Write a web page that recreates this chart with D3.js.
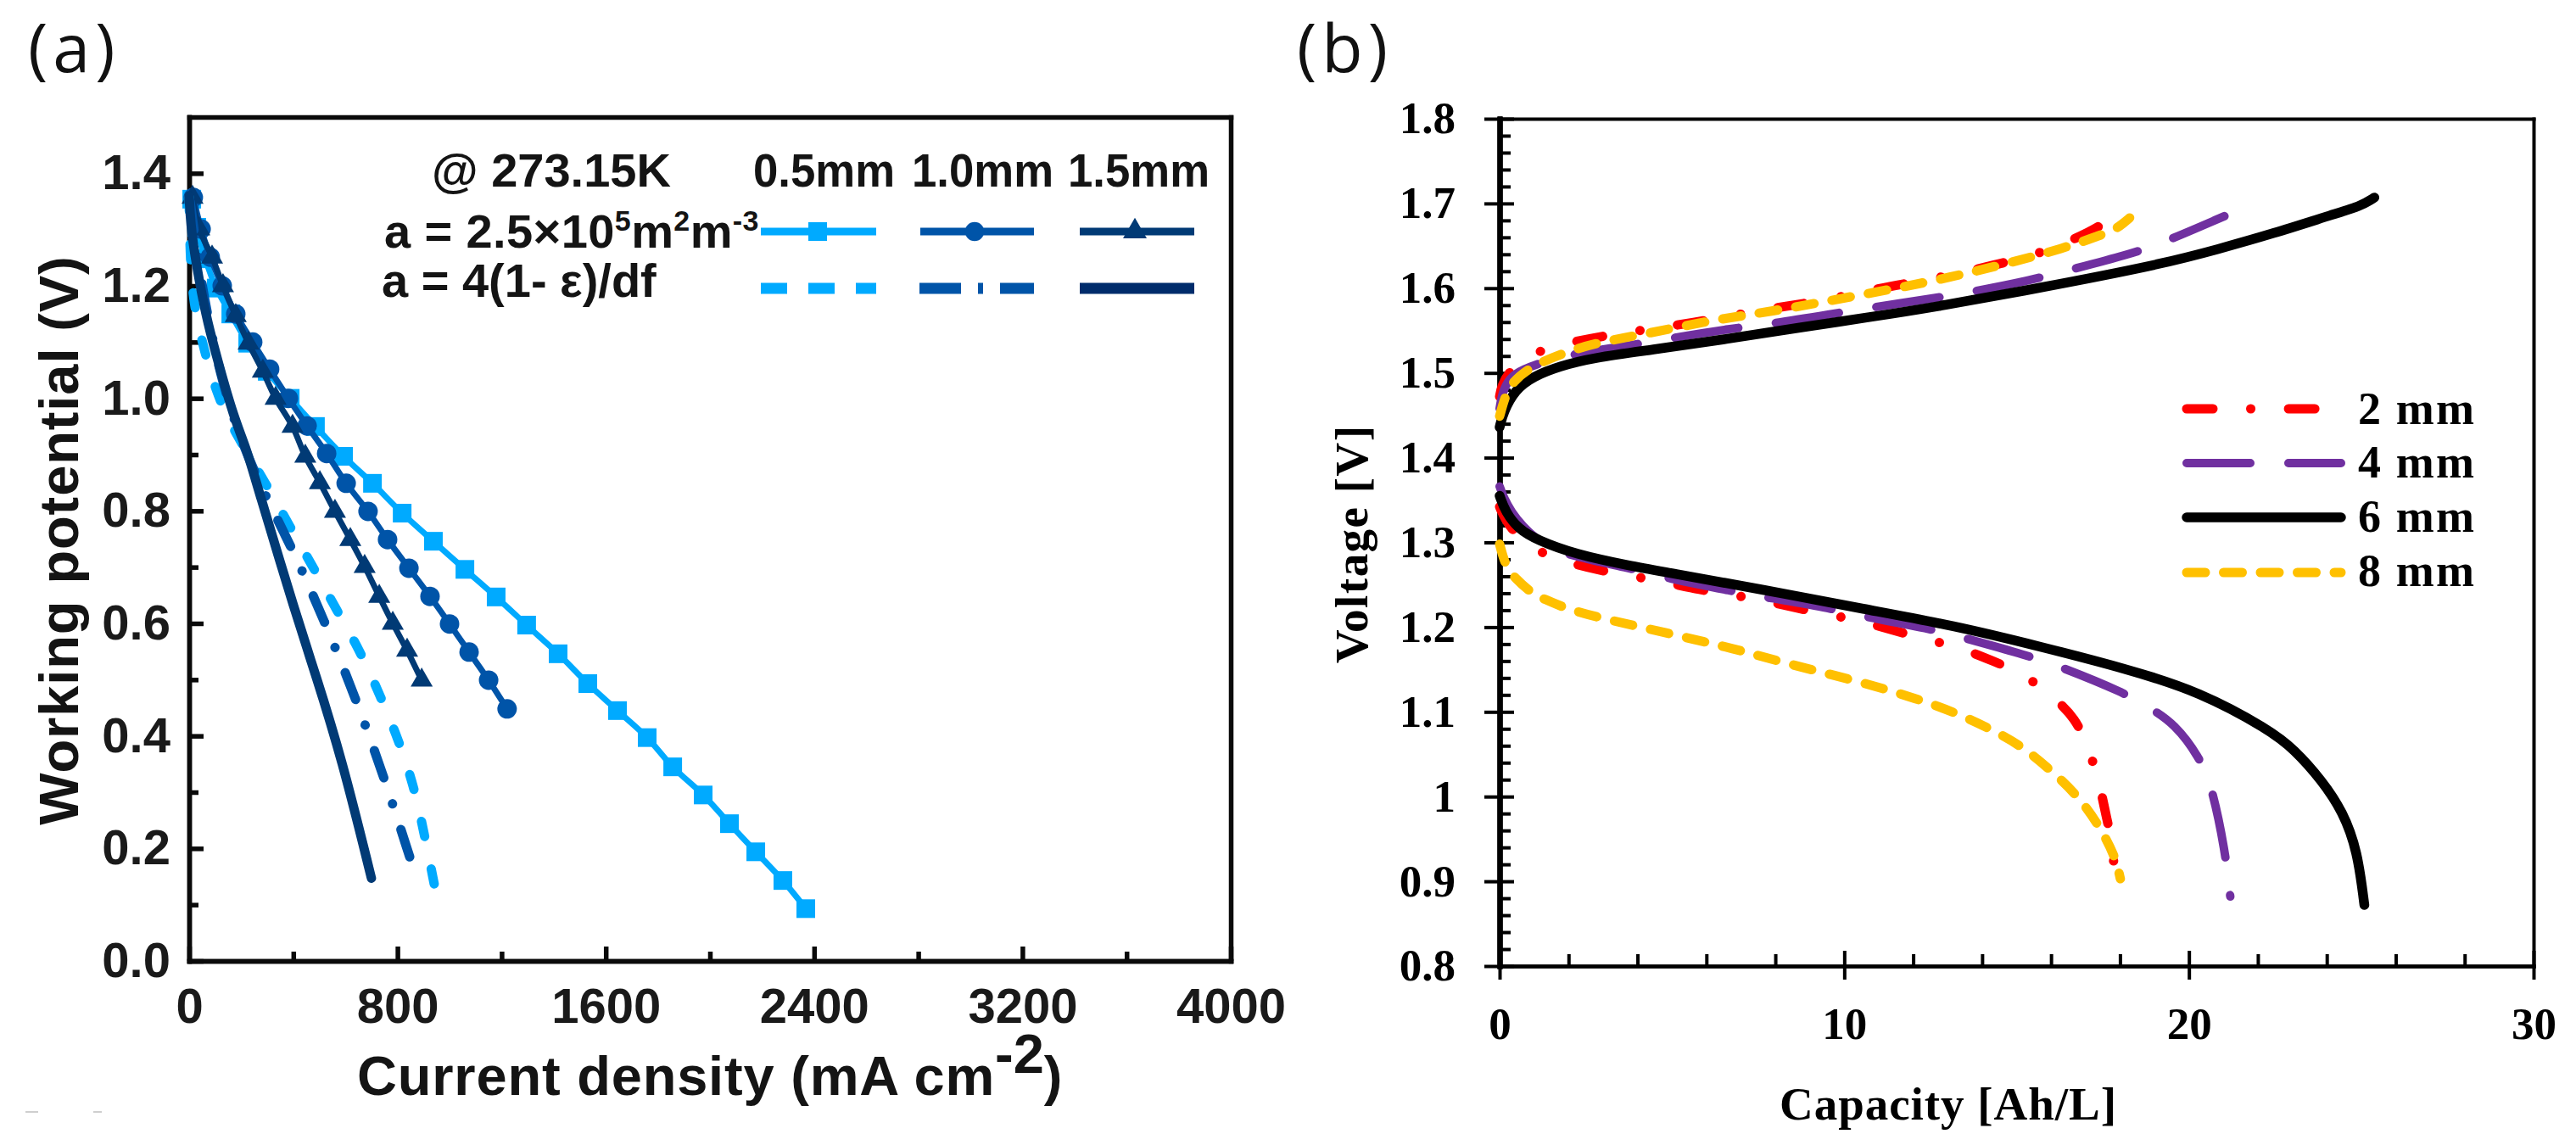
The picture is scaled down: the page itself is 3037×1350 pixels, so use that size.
<!DOCTYPE html>
<html><head><meta charset="utf-8">
<script src="https://cdn.jsdelivr.net/npm/d3@7"></script>
<style>html,body{margin:0;padding:0;background:#fff}svg{display:block}</style>
</head><body><svg id="c" width="3037" height="1350"></svg>
<script>
// ---------- Panel (a) data: current density (mA cm-2), working potential (V)
const aSquareX=[2368,2280,2176,2075,1974,1857,1759,1645,1531,1417,1296,1179,1059,938,818,704,593,485,388,300,225,160,104,62,29,10];
const aSquareY=[0.093,0.143,0.194,0.244,0.295,0.345,0.397,0.445,0.493,0.546,0.597,0.647,0.696,0.746,0.796,0.849,0.897,0.95,1.0,1.048,1.098,1.15,1.196,1.248,1.304,1.354];
const aCircleX=[1221,1150,1075,1000,925,844,762,687,603,528,453,381,309,244,179,127,81,46,16];
const aCircleY=[0.448,0.499,0.549,0.599,0.648,0.698,0.749,0.799,0.849,0.902,0.951,1.0,1.052,1.1,1.15,1.2,1.251,1.301,1.357];
const aTriX=[893,837,782,730,674,619,560,502,446,397,332,283,228,179,130,88,39,13];
const aTriY=[0.499,0.552,0.6,0.648,0.701,0.749,0.799,0.85,0.897,0.95,1.0,1.048,1.098,1.147,1.2,1.251,1.301,1.357];
const aDashX=[941,902,863,805,733,658,567,479,440,290,169,104,55,16,3,0];
const aDashY=[0.137,0.228,0.311,0.392,0.472,0.55,0.623,0.698,0.728,0.853,0.944,1.01,1.09,1.168,1.256,1.358];
const aDashDotX=[847,749,642,521,391,251,153,88,39,10,0];
const aDashDotY=[0.185,0.326,0.464,0.603,0.739,0.864,0.984,1.105,1.226,1.331,1.36];
const aSolidX=[0,7,39,72,114,169,225,257,414,485,586,700];
const aSolidY=[1.36,1.297,1.207,1.132,1.06,0.97,0.904,0.851,0.61,0.51,0.36,0.147];
const aXTicks=[0,800,1600,2400,3200,4000];
const aXMinor=[400,1200,2000,2800,3600];
const aYTicks=[0,0.2,0.4,0.6,0.8,1.0,1.2,1.4];
const aYMinor=[0.1,0.3,0.5,0.7,0.9,1.1,1.3];
const aSizes=["0.5mm","1.0mm","1.5mm"];

// ---------- Panel (b) data: capacity (Ah/L), voltage (V)
const bLegend=["2 mm","4 mm","6 mm","8 mm"];
const redCX=[0,0.05,0.32,1.18,2.19,3.07,4.05,5.09,5.97,6.95,8.01,8.87,9.83,10.81,11.72,12.7,13.69,14.62,15.58,16.51,17.37,18.16];
const redCY=[1.472,1.484,1.506,1.528,1.537,1.544,1.55,1.556,1.562,1.569,1.577,1.582,1.589,1.598,1.605,1.612,1.621,1.63,1.64,1.655,1.671,1.695];
const redDX=[0,0.27,1.06,2.01,2.9,3.88,4.82,5.8,6.76,7.74,8.65,9.66,10.61,11.52,12.46,13.41,14.32,15.23,16.02,16.71,17.1,17.4,17.59,17.81,17.86];
const redDY=[1.342,1.317,1.289,1.276,1.267,1.26,1.253,1.244,1.238,1.231,1.222,1.214,1.206,1.195,1.185,1.175,1.16,1.144,1.119,1.093,1.056,1.017,0.978,0.94,0.886];
const purCX=[0,0.1,0.42,0.98,1.92,3.88,4.82,6.81,7.74,9.71,10.61,12.58,13.49,15.48,16.39,18.28,19.21,21.03];
const purCY=[1.458,1.482,1.5,1.509,1.521,1.533,1.54,1.553,1.557,1.57,1.576,1.588,1.594,1.61,1.62,1.64,1.653,1.685];
const purDX=[0,0.27,1.08,1.92,3.88,4.82,6.81,7.74,9.66,10.61,12.5,13.41,15.36,16.22,18.11,18.89,19.58,20.3,20.67,21.06,21.16,21.2];
const purDY=[1.366,1.337,1.301,1.285,1.269,1.258,1.242,1.235,1.222,1.212,1.198,1.188,1.166,1.154,1.123,1.104,1.086,1.047,1.012,0.933,0.895,0.882];
const blkCX=[0,0.1,0.44,0.98,1.74,2.73,4.37,6.58,8.77,10.6,12.7,16.27,19.26,20.84,22.41,24.25,24.99,25.38];
const blkCY=[1.436,1.453,1.48,1.496,1.508,1.518,1.527,1.54,1.554,1.565,1.578,1.605,1.629,1.646,1.664,1.688,1.697,1.707];
const blkDX=[0,0.17,0.54,1.08,2.19,3.83,4.82,7.67,10.61,13.17,15.7,18.26,20.3,22.33,23.05,23.86,24.47,24.89,25.09];
const blkDY=[1.355,1.336,1.316,1.303,1.286,1.272,1.265,1.244,1.221,1.202,1.177,1.15,1.124,1.079,1.056,1.019,0.982,0.936,0.872];
const yelCX=[0,0.17,0.37,0.88,1.87,2.85,4.37,5.97,8.11,10.2,12.31,14.35,16.46,17.44,17.81,18.11,18.28];
const yelCY=[1.449,1.474,1.489,1.507,1.524,1.536,1.547,1.561,1.574,1.59,1.606,1.625,1.648,1.663,1.668,1.677,1.683];
const yelDX=[0,0.17,0.44,0.93,1.3,1.92,2.9,4.32,6.02,7.03,8.33,10.61,12.14,13.17,14.18,15.11,15.97,16.73,17.35,17.86,18.01];
const yelDY=[1.298,1.272,1.258,1.24,1.233,1.222,1.211,1.198,1.182,1.172,1.157,1.134,1.115,1.1,1.081,1.061,1.032,1.003,0.969,0.93,0.903];
const bXTicks=[0,10,20,30];
const bYTicks=[0.8,0.9,1,1.1,1.2,1.3,1.4,1.5,1.6,1.7,1.8];

// ---------- styles
const LIGHT="#00aaff",MID="#0054a8",DARK="#013a75";
const RED="#ff0000",PUR="#7030a0",BLK="#000000",YEL="#ffc000";
const SANS='"Liberation Sans",Arial,sans-serif',SERIF='"Liberation Serif","Times New Roman",serif',UI='"Open Sans","Noto Sans",sans-serif';
const dRed="31,44.5,0.1,44.5",dPur="75,45",dYel="22,21.5";

const svg=d3.select("#c");
svg.append("rect").attr("width",3037).attr("height",1350).attr("fill","#fff");
const zip=(a,b)=>a.map((v,i)=>[v,b[i]]);

// ---------- panel labels
[["(a)",33],["(b)",1529]].forEach(([t,x])=>svg.append("text").text(t).attr("x",x).attr("y",85)
  .attr("font-family",UI).attr("font-size",79).attr("letter-spacing",6).attr("fill","#111"));

// faint scan marks under panel (a)
[[30,45],[110,120]].forEach(([a,b])=>svg.append("line").attr("x1",a).attr("x2",b).attr("y1",1311).attr("y2",1311).attr("stroke","#cfcfcf").attr("stroke-width",2));

// ---------- Panel (a)
const xa=d3.scaleLinear().domain([0,4000]).range([223,1451]);
const ya=d3.scaleLinear().domain([0,1.5]).range([1133,138]);
const ga=svg.append("g").attr("font-family",SANS);

function styleAxis(g,w,col){g.selectAll("path.domain").attr("stroke",col).attr("stroke-width",w).attr("stroke-linecap","square");
  g.selectAll("line").attr("stroke",col).attr("stroke-width",w);}

const aLeft=ga.append("g").attr("transform",`translate(${xa(0)},0)`)
  .call(d3.axisLeft(ya).tickValues(aYTicks).tickSizeInner(-17).tickSizeOuter(0).tickPadding(22).tickFormat(d3.format(".1f")));
const aBottom=ga.append("g").attr("transform",`translate(0,${ya(0)})`)
  .call(d3.axisBottom(xa).tickValues(aXTicks).tickSizeInner(-17).tickSizeOuter(0).tickPadding(32).tickFormat(d=>String(d)));
const aLeftM=ga.append("g").attr("transform",`translate(${xa(0)},0)`)
  .call(d3.axisLeft(ya).tickValues(aYMinor).tickSizeInner(-11).tickSizeOuter(0).tickFormat(""));
const aBotM=ga.append("g").attr("transform",`translate(0,${ya(0)})`)
  .call(d3.axisBottom(xa).tickValues(aXMinor).tickSizeInner(-11).tickSizeOuter(0).tickFormat(""));
const aTop=ga.append("g").attr("transform",`translate(0,${ya(1.5)})`).call(d3.axisTop(xa).tickValues([]).tickSizeOuter(0));
const aRight=ga.append("g").attr("transform",`translate(${xa(4000)},0)`).call(d3.axisRight(ya).tickValues([]).tickSizeOuter(0));
[aLeft,aBottom,aLeftM,aBotM,aTop,aRight].forEach(g=>{styleAxis(g,5.5,"#0a0a0a");
  g.selectAll("text").attr("font-family",SANS).attr("font-size",58).attr("font-weight",700).attr("fill","#1a1a1a");});

const lineA=d3.line().x(d=>xa(d[0])).y(d=>ya(d[1])).curve(d3.curveCatmullRom.alpha(0.5));
const lineASmooth=d3.line().x(d=>xa(d[0])).y(d=>ya(d[1])).curve(d3.curveBasis);
const aSeries=[
 {x:aSquareX,y:aSquareY,c:LIGHT,w:7,sym:d3.symbolSquare,size:484},
 {x:aCircleX,y:aCircleY,c:MID,w:7,sym:d3.symbolCircle,size:415},
 {x:aTriX,y:aTriY,c:DARK,w:7,sym:d3.symbolTriangle,size:293},
 {x:aDashX,y:aDashY,c:LIGHT,w:11,dash:"18,39",cap:"round",smooth:true},
 {x:aDashDotX,y:aDashDotY,c:MID,w:11,dash:"34,32,0.1,32",cap:"round",smooth:true},
 {x:aSolidX,y:aSolidY,c:DARK,w:11,cap:"round",smooth:true}];
aSeries.forEach(s=>{
  const pts=zip(s.x,s.y);
  ga.append("path").attr("d",(s.smooth?lineASmooth:lineA)(pts)).attr("fill","none").attr("stroke",s.c).attr("stroke-width",s.w)
    .attr("stroke-dasharray",s.dash||null).attr("stroke-linecap",s.cap||"butt").attr("stroke-linejoin","round");
  if(s.sym) ga.selectAll(null).data(pts).join("path")
    .attr("d",d3.symbol().type(s.sym).size(s.size)).attr("fill",s.c)
    .attr("transform",d=>`translate(${xa(d[0])},${ya(d[1])})`);
});

// axis titles (a)
const txtA=(x,y,sz,ls)=>ga.append("text").attr("x",x).attr("y",y).attr("font-size",sz).attr("font-weight",700).attr("letter-spacing",ls).attr("fill","#141414");
ga.append("text").text("Working potential (V)").attr("transform","translate(92,637) rotate(-90)").attr("text-anchor","middle")
  .attr("font-size",65).attr("font-weight",700).attr("letter-spacing",0.9).attr("fill","#141414");
const xt=txtA(421,1291,65,0.8);
xt.append("tspan").text("Current density (mA cm");
xt.append("tspan").text("-2").attr("dy",-26).attr("letter-spacing",0);
xt.append("tspan").text(")").attr("dy",26);

// legend (a)
txtA(509,220,56,0).text("@ 273.15K");
aSizes.forEach((t,i)=>txtA([888,1075,1259][i],220,56,0).text(t).attr("textLength",167).attr("lengthAdjust","spacingAndGlyphs"));
const l1=txtA(453,292,56,0.4);
l1.append("tspan").text("a = 2.5×10");
[["5","m"],["2","m"],["-3",""]].forEach(([s,m])=>{
  l1.append("tspan").text(s).attr("font-size",34).attr("dy",-20);
  if(m) l1.append("tspan").text(m).attr("dy",20);
});
txtA(450,350,56,0).text("a = 4(1- ε)/df");
const legA=[
 {x1:897,x2:1033,mx:964,c:LIGHT,sym:d3.symbolSquare,size:484},
 {x1:1085,x2:1219,mx:1149,c:MID,sym:d3.symbolCircle,size:400},
 {x1:1273,x2:1408,mx:1338,c:DARK,sym:d3.symbolTriangle,size:340}];
legA.forEach(l=>{
  ga.append("line").attr("x1",l.x1).attr("x2",l.x2).attr("y1",273).attr("y2",273).attr("stroke",l.c).attr("stroke-width",9);
  ga.append("path").attr("d",d3.symbol().type(l.sym).size(l.size)).attr("fill",l.c).attr("transform",`translate(${l.mx},273)`);
});
[{x1:897,x2:1033,c:LIGHT,d:"31,25"},{x1:1084,x2:1219,c:MID,d:"49,20,6,20,40"},{x1:1273,x2:1408,c:"#002c6b",d:null}].forEach(l=>
  ga.append("line").attr("x1",l.x1).attr("x2",l.x2).attr("y1",340).attr("y2",340).attr("stroke",l.c).attr("stroke-width",13).attr("stroke-dasharray",l.d));

// ---------- Panel (b)
const xb=d3.scaleLinear().domain([0,30]).range([1768,2987]);
const yb=d3.scaleLinear().domain([0.8,1.8]).range([1139,140]);
const gb=svg.append("g").attr("font-family",SERIF);
const minorOf=(t,n)=>{const out=[];for(let i=0;i<t.length-1;i++)for(let k=1;k<n;k++)out.push(t[i]+(t[i+1]-t[i])*k/n);return out;};

const bLeftOut=gb.append("g").attr("transform",`translate(${xb(0)},0)`)
  .call(d3.axisLeft(yb).tickValues(bYTicks).tickSizeInner(18).tickSizeOuter(0).tickPadding(34).tickFormat(d=>String(d)));
const bLeftIn=gb.append("g").attr("transform",`translate(${xb(0)},0)`)
  .call(d3.axisLeft(yb).tickValues(bYTicks).tickSizeInner(-17).tickSizeOuter(0).tickFormat(""));
const bLeftM=gb.append("g").attr("transform",`translate(${xb(0)},0)`)
  .call(d3.axisLeft(yb).tickValues(minorOf(bYTicks,5)).tickSizeInner(-13).tickSizeOuter(0).tickFormat(""));
const bBotOut=gb.append("g").attr("transform",`translate(0,${yb(0.8)})`)
  .call(d3.axisBottom(xb).tickValues(bXTicks).tickSizeInner(16).tickSizeOuter(0).tickPadding(32).tickFormat(d=>String(d)));
const bBotIn=gb.append("g").attr("transform",`translate(0,${yb(0.8)})`)
  .call(d3.axisBottom(xb).tickValues(bXTicks).tickSizeInner(-18).tickSizeOuter(0).tickFormat(""));
const bBotM=gb.append("g").attr("transform",`translate(0,${yb(0.8)})`)
  .call(d3.axisBottom(xb).tickValues(minorOf(bXTicks,5)).tickSizeInner(-14).tickSizeOuter(0).tickFormat(""));
const bTop=gb.append("g").attr("transform",`translate(0,${yb(1.8)})`).call(d3.axisTop(xb).tickValues([]).tickSizeOuter(0));
const bRight=gb.append("g").attr("transform",`translate(${xb(30)},0)`).call(d3.axisRight(yb).tickValues([]).tickSizeOuter(0));
[bLeftOut,bLeftIn,bLeftM,bBotOut,bBotIn,bBotM,bTop,bRight].forEach(g=>{styleAxis(g,4,"#000");
  g.selectAll("text").attr("font-family",SERIF).attr("font-size",53).attr("font-weight",700).attr("fill","#000");});
[bLeftOut,bLeftIn,bLeftM].forEach(g=>g.selectAll("path.domain").attr("stroke-width",6));

const lineB=d3.line().x(d=>xb(d[0])).y(d=>yb(d[1])).curve(d3.curveBasis);
const bSeries=[
 {pairs:[[redCX,redCY],[redDX,redDY]],c:RED,w:11,dash:dRed},
 {pairs:[[purCX,purCY],[purDX,purDY]],c:PUR,w:10,dash:dPur},
 {pairs:[[blkCX,blkCY],[blkDX,blkDY]],c:BLK,w:11.5,dash:null},
 {pairs:[[yelCX,yelCY],[yelDX,yelDY]],c:YEL,w:11,dash:dYel}];
bSeries.forEach(s=>s.pairs.forEach(([X,Y])=>gb.append("path").attr("d",lineB(zip(X,Y)))
  .attr("fill","none").attr("stroke",s.c).attr("stroke-width",s.w).attr("stroke-linecap","round").attr("stroke-linejoin","round")
  .attr("stroke-dasharray",s.dash)));

gb.append("text").text("Capacity [Ah/L]").attr("x",2098).attr("y",1320).attr("font-size",55).attr("font-weight",700).attr("textLength",397).attr("fill","#000");
gb.append("text").text("Voltage [V]").attr("transform","translate(1612,782) rotate(-90)").attr("font-size",55).attr("font-weight",700).attr("textLength",280).attr("fill","#000");

// legend (b)
const legYs=[482,546,610,675], legBase=[500,563,627,691];
bSeries.forEach((s,i)=>{
  gb.append("line").attr("x1",2578).attr("x2",2760).attr("y1",legYs[i]).attr("y2",legYs[i]).attr("stroke",s.c).attr("stroke-width",s.w)
    .attr("stroke-linecap","round").attr("stroke-dasharray",s.dash);
  gb.append("text").text(bLegend[i]).attr("x",2780).attr("y",legBase[i]).attr("font-size",54).attr("font-weight",700).attr("textLength",137).attr("fill","#000");
});
</script></body></html>
